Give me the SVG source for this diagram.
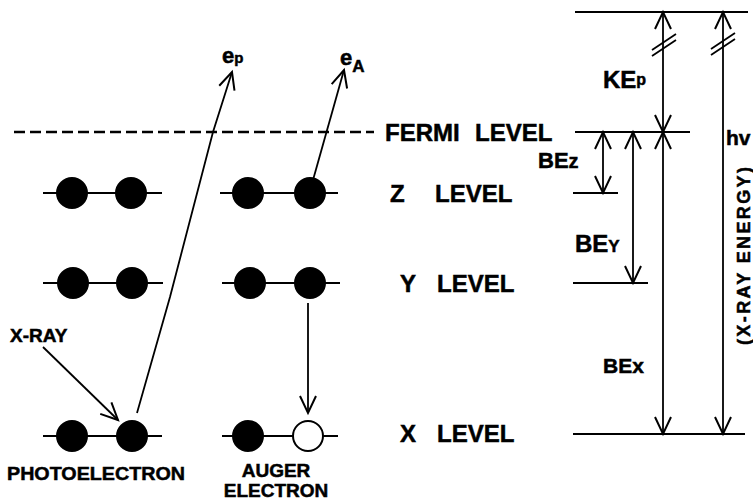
<svg xmlns="http://www.w3.org/2000/svg" width="753" height="500" viewBox="0 0 753 500">
  <defs>
    <style>
      .t { font-family: "Liberation Sans", Arial, Helvetica, sans-serif; font-weight: bold; fill: #000; stroke: #000; stroke-width: 0.5; }
      .ln { stroke: #000; stroke-width: 2; fill: none; }
      .arr { stroke: #000; stroke-width: 1.8; fill: none; }
      .dash { stroke: #000; stroke-width: 2.5; stroke-dasharray: 11 5; fill: none; }
      .full { fill: #000; stroke: #000; stroke-width: 2; }
      .hole { fill: #fff; stroke: #000; stroke-width: 2; }
    </style>
    <marker id="vee" markerUnits="userSpaceOnUse" viewBox="-20 -10 22 20" refX="0" refY="0" markerWidth="22" markerHeight="20" orient="auto-start-reverse" overflow="visible">
      <path d="M -17 -8 L 0 0 L -17 8" fill="none" stroke="#000" stroke-width="2"/>
    </marker>
  </defs>

  <!-- Fermi level (left, dashed) -->
  <g id="fermi-left">
    <line class="dash" x1="14" y1="132" x2="374" y2="132"/>
    <text class="t" font-size="24" y="141"><tspan x="385">FERMI</tspan><tspan x="475">LEVEL</tspan></text>
  </g>

  <!-- Z level -->
  <g id="z-level">
    <line class="ln" x1="43" y1="193" x2="162" y2="193"/>
    <circle class="full" cx="72" cy="193" r="15"/>
    <circle class="full" cx="131" cy="193" r="15"/>
    <line class="ln" x1="220" y1="193" x2="338" y2="193"/>
    <circle class="full" cx="248" cy="193" r="15"/>
    <circle class="full" cx="310" cy="193" r="15"/>
    <text class="t" font-size="24" y="202"><tspan x="390">Z</tspan><tspan x="435">LEVEL</tspan></text>
  </g>

  <!-- Y level -->
  <g id="y-level">
    <line class="ln" x1="43" y1="283" x2="163" y2="283"/>
    <circle class="full" cx="73" cy="283" r="15"/>
    <circle class="full" cx="132" cy="283" r="15"/>
    <line class="ln" x1="222" y1="283" x2="340" y2="283"/>
    <circle class="full" cx="250" cy="283" r="15"/>
    <circle class="full" cx="310" cy="283" r="15"/>
    <text class="t" font-size="24" y="292"><tspan x="400">Y</tspan><tspan x="437">LEVEL</tspan></text>
  </g>

  <!-- X level -->
  <g id="x-level">
    <line class="ln" x1="43" y1="436" x2="162" y2="436"/>
    <circle class="full" cx="72" cy="436" r="15"/>
    <circle class="full" cx="132" cy="436" r="15"/>
    <line class="ln" x1="222" y1="436" x2="338" y2="436"/>
    <circle class="full" cx="248" cy="436" r="15"/>
    <circle class="hole" cx="308" cy="436" r="15"/>
    <text class="t" font-size="24" y="442"><tspan x="400">X</tspan><tspan x="437">LEVEL</tspan></text>
  </g>

  <!-- captions under the two processes -->
  <g id="photoelectron">
    <text class="t" font-size="19" x="7" y="480" textLength="178" lengthAdjust="spacingAndGlyphs">PHOTOELECTRON</text>
  </g>
  <g id="auger">
    <text class="t" font-size="19" x="276" y="477" text-anchor="middle">AUGER</text>
    <text class="t" font-size="19" x="276" y="497" text-anchor="middle">ELECTRON</text>
  </g>
  <g id="xray-label">
    <text class="t" font-size="19" x="10" y="342">X-RAY</text>
  </g>

  <!-- emitted electrons -->
  <g id="ep">
    <text class="t" x="222" y="63"><tspan font-size="22">e</tspan><tspan font-size="15">p</tspan></text>
  </g>
  <g id="ea">
    <text class="t" x="340" y="65"><tspan font-size="22">e</tspan><tspan font-size="17" dy="7">A</tspan></text>
  </g>

  <!-- energy scale -->
  <g id="scale-lines">
    <line class="ln" x1="575" y1="12" x2="748" y2="12"/>
    <line class="ln" x1="575" y1="132" x2="690" y2="132"/>
    <line class="ln" x1="573" y1="193" x2="618" y2="193"/>
    <line class="ln" x1="573" y1="283" x2="648" y2="283"/>
    <line class="ln" x1="573" y1="434" x2="745" y2="434"/>
  </g>

  <g id="kep">
    <text class="t" x="603" y="88"><tspan font-size="24">KE</tspan><tspan font-size="16" dy="-3">p</tspan></text>
  </g>
  <g id="bez">
    <text class="t" x="538" y="168"><tspan font-size="22">BE</tspan><tspan font-size="20">z</tspan></text>
  </g>
  <g id="bey">
    <text class="t" x="575" y="252"><tspan font-size="24">BE</tspan><tspan font-size="17">Y</tspan></text>
  </g>
  <g id="bex">
    <text class="t" x="603" y="373"><tspan font-size="21">BE</tspan><tspan font-size="21">x</tspan></text>
  </g>
  <g id="hv">
    <text class="t" font-size="21" x="726" y="145">hv</text>
    <text class="t" font-size="18" transform="translate(750,256) rotate(-90)" text-anchor="middle" textLength="178" lengthAdjust="spacing">(X-RAY  ENERGY)</text>
  </g>

  <!-- connectors -->
  <g id="connectors">
    <!-- incoming X-ray -->
    <line class="arr" x1="43" y1="347" x2="118" y2="420" marker-end="url(#vee)"/>
    <!-- photoelectron ejection -->
    <path class="arr" d="M 137 413 L 170 297 L 213 132 L 232 72" marker-end="url(#vee)"/>
    <!-- Auger electron ejection -->
    <line class="arr" x1="313" y1="180" x2="344" y2="70" marker-end="url(#vee)"/>
    <!-- Y to X relaxation -->
    <line class="arr" x1="308" y1="303" x2="308" y2="413" marker-end="url(#vee)"/>

    <!-- KEp -->
    <line class="arr" x1="663" y1="12" x2="663" y2="132" marker-start="url(#vee)" marker-end="url(#vee)"/>
    <!-- BEx -->
    <line class="arr" x1="663" y1="132" x2="663" y2="434" marker-start="url(#vee)" marker-end="url(#vee)"/>
    <!-- BEz -->
    <line class="arr" x1="603" y1="132" x2="603" y2="193" marker-start="url(#vee)" marker-end="url(#vee)"/>
    <!-- BEy -->
    <line class="arr" x1="633" y1="132" x2="633" y2="283" marker-start="url(#vee)" marker-end="url(#vee)"/>
    <!-- hv -->
    <line class="arr" x1="723" y1="12" x2="723" y2="434" marker-start="url(#vee)" marker-end="url(#vee)"/>

    <!-- scale breaks -->
    <path class="arr" d="M 652 50 L 676 34 M 652 56 L 676 40"/>
    <path class="arr" d="M 711 49 L 735 33 M 711 55 L 735 39"/>
  </g>
</svg>
